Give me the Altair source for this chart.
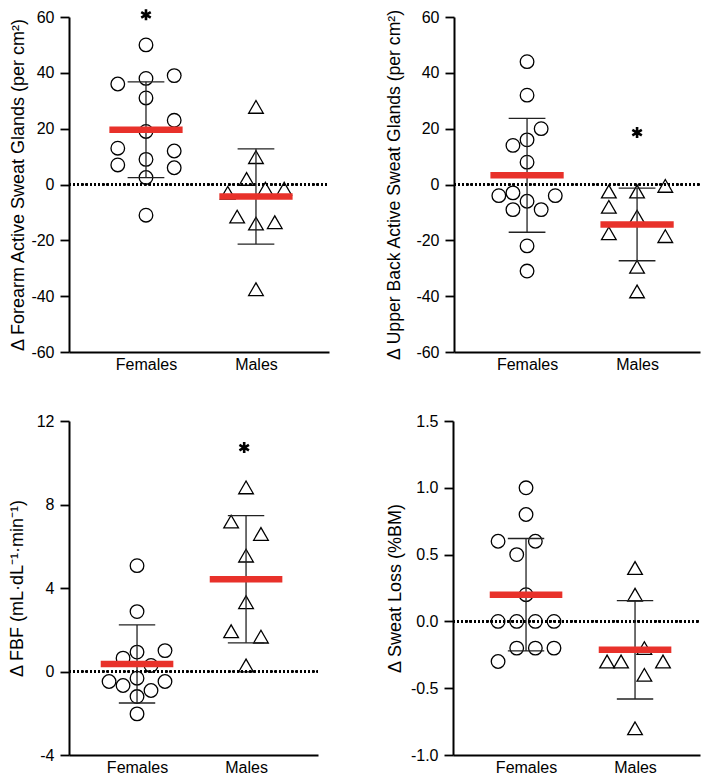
import altair as alt
import pandas as pd

GROUPS = ["Females", "Males"]

# ---- Forearm active sweat glands (per cm2) ----
fa_f_vals = [50, 38, 31, 19, 9, 2.5, -11, 36, 13, 7, 39, 23, 12, 6]
fa_f_cols = [0, 0, 0, 0, 0, 0, 0, -3, -3, -3, 3, 3, 3, 3]
fa_m_vals = [27.8, 9.8, 2, -3, -1.5, -1.5, -11.5, -14, -13.5, -37.5]
fa_m_cols = [0, 0, -1, -3, 1, 3, -2, 0, 2, 0]

# ---- Upper back active sweat glands (per cm2) ----
ub_f_vals = [44, 32, 20, 16, 14, 8, -3, -4, -4, -6, -9, -9, -22, -31]
ub_f_cols = [0, 0, 1.5, 0, -1.5, 0, -1.5, -3, 3, 0, -1.5, 1.5, 0, 0]
ub_m_vals = [-2.5, -2.5, -0.5, -8, -11.5, -17.5, -18.5, -29.5, -38.3]
ub_m_cols = [-3, 0, 3, -3, 0, -3, 3, 0, 0]

# ---- FBF (mL/dL/min) ----
fbf_f_vals = [5.07, 2.87, 1.0, 0.93, 0.64, 0.29, -0.48, -0.48, -0.32, -0.67, -0.91, -1.2, -2.03]
fbf_f_cols = [0, 0, 3, 0, -1.5, 1.5, -3, 3, 0, -1.5, 1.5, 0, 0]
fbf_m_vals = [8.82, 7.18, 6.59, 5.55, 3.32, 1.93, 1.67, 0.29]
fbf_m_cols = [0, -1.6, 1.6, 0, 0, -1.6, 1.6, 0]

# ---- Sweat loss (%BM) ----
sl_f_vals = [1.0, 0.8, 0.6, 0.6, 0.5, 0.2, 0, 0, 0, 0, -0.2, -0.2, -0.2, -0.3]
sl_f_cols = [0, 0, -3, 1, -1, 0, -3, -1, 1, 3, -1, 1, 3, -3]
sl_m_vals = [0.4, 0.2, -0.2, -0.3, -0.3, -0.3, -0.4, -0.8]
sl_m_cols = [0, 0, 1, -3, -1.5, 3, 1, 0]

# significance markers: (group index, y value, column)
fa_sig = [(0, 60.8, 0)]
ub_sig = [(1, 18.6, 0)]
fbf_sig = [(1, 10.73, -0.2)]
sl_sig = []

COL = 0.0855
BAR_HALF = 0.333
CAP_HALF = 0.167
RED = "#e8312a"
FONT = "Liberation Sans"
ASTERISK = "M0,-1L0,1M-0.866,-0.5L0.866,0.5M-0.866,0.5L0.866,-0.5"


def points_df(fv, fc, mv, mc):
    rows = [{"group": "Females", "gi": 0, "col": c, "v": v} for v, c in zip(fv, fc)]
    rows += [{"group": "Males", "gi": 1, "col": c, "v": v} for v, c in zip(mv, mc)]
    return pd.DataFrame(rows)


def panel(df, sig, title, ydom, yticks, decimals, w, h, xdom, tfs, tpad):
    if decimals:
        lab = "(datum.value < 0 ? '-' : '') + format(abs(datum.value), '.1f')"
    else:
        lab = "(datum.value < 0 ? '-' : '') + format(abs(datum.value), 'd')"
    yscale = alt.Scale(domain=ydom, nice=False, zero=False)
    yaxis = alt.Axis(
        values=yticks, labelExpr=lab, title=title, grid=False,
        domainColor="black", domainWidth=2, tickColor="black", tickWidth=1.8,
        tickSize=9, labelPadding=6, labelFont=FONT, labelFontSize=16,
        labelColor="black", titleFont=FONT, titleFontSize=tfs,
        titleFontWeight="normal", titleColor="black", titlePadding=tpad,
    )
    xscale = alt.Scale(domain=xdom, nice=False, zero=False)
    xaxis = alt.Axis(
        values=[0, 1], labelExpr="datum.value == 0 ? 'Females' : 'Males'",
        ticks=False, tickSize=0, grid=False, title=None, labelPadding=4,
        domainColor="black", domainWidth=2, labelFont=FONT, labelFontSize=16,
        labelColor="black", labelFlush=False,
    )

    base = alt.Chart(df)

    zero = base.mark_rule(color="black", strokeWidth=1.6, strokeDash=[1.6, 2.6]).encode(
        x=alt.value(0), x2=alt.value(w),
        y=alt.datum(0, scale=yscale, axis=yaxis),
    )

    pts = base.transform_calculate(x=f"datum.gi + datum.col * {COL}").mark_point(
        filled=False, color="black", strokeWidth=1.3, opacity=1
    ).encode(
        x=alt.X("x:Q", scale=xscale, axis=xaxis),
        y=alt.Y("v:Q", scale=yscale, axis=yaxis),
        shape=alt.Shape("group:N", scale=alt.Scale(domain=GROUPS, range=["circle", "triangle-up"]), legend=None),
        size=alt.Size("group:N", scale=alt.Scale(domain=GROUPS, range=[185, 215]), legend=None),
    )

    stats = base.transform_aggregate(
        m="mean(v)", sd="stdev(v)", groupby=["gi"]
    ).transform_calculate(
        lo="datum.m - datum.sd", hi="datum.m + datum.sd",
        bx1=f"datum.gi - {BAR_HALF}", bx2=f"datum.gi + {BAR_HALF}",
        cx1=f"datum.gi - {CAP_HALF}", cx2=f"datum.gi + {CAP_HALF}",
    )

    err_v = stats.mark_rule(color="#222222", strokeWidth=1.3).encode(
        x=alt.X("gi:Q", scale=xscale, axis=xaxis),
        y=alt.Y("lo:Q", scale=yscale, axis=yaxis), y2="hi:Q",
    )
    caps = stats.transform_fold(["lo", "hi"], as_=["k", "cv"]).mark_rule(
        color="#222222", strokeWidth=1.3
    ).encode(
        x=alt.X("cx1:Q", scale=xscale, axis=xaxis), x2="cx2:Q",
        y=alt.Y("cv:Q", scale=yscale, axis=yaxis),
    )
    mean_bar = stats.mark_rule(color=RED, strokeWidth=6.5).encode(
        x=alt.X("bx1:Q", scale=xscale, axis=xaxis), x2="bx2:Q",
        y=alt.Y("m:Q", scale=yscale, axis=yaxis),
    )

    layers = [zero, pts, err_v, caps, mean_bar]
    if sig:
        sdf = pd.DataFrame({"gi": [s[0] for s in sig], "sy": [s[1] for s in sig], "col": [s[2] for s in sig]})
        star = alt.Chart(sdf).transform_calculate(sx=f"datum.gi + datum.col * {COL}").mark_point(
            shape=ASTERISK, size=121, filled=False, color="black", strokeWidth=2.6,
            strokeCap="butt", strokeJoin="round", opacity=1,
        ).encode(
            x=alt.X("sx:Q", scale=xscale, axis=xaxis),
            y=alt.Y("sy:Q", scale=yscale, axis=yaxis),
        )
        layers.append(star)
    return alt.layer(*layers).properties(width=w, height=h)


p1 = panel(points_df(fa_f_vals, fa_f_cols, fa_m_vals, fa_m_cols), fa_sig,
           "\u0394  Forearm Active Sweat Glands (per cm\u00b2)",
           [-60, 60], [-60, -40, -20, 0, 20, 40, 60], False, 260, 335, [-0.7, 1.664], 18, 3.5)
p2 = panel(points_df(ub_f_vals, ub_f_cols, ub_m_vals, ub_m_cols), ub_sig,
           "\u0394  Upper Back Active Sweat Glands (per cm\u00b2)",
           [-60, 60], [-60, -40, -20, 0, 20, 40, 60], False, 246, 335, [-0.664, 1.572], 17.6, 12)
p3 = panel(points_df(fbf_f_vals, fbf_f_cols, fbf_m_vals, fbf_m_cols), fbf_sig,
           "\u0394 FBF (mL\u00b7dL\u207b\u00b9\u00b7min\u207b\u00b9)",
           [-4, 12], [-4, 0, 4, 8, 12], False, 249, 334, [-0.624, 1.66], 18, 10)
p4 = panel(points_df(sl_f_vals, sl_f_cols, sl_m_vals, sl_m_cols), sl_sig,
           "\u0394 Sweat Loss (%BM)",
           [-1, 1.5], [-1.0, -0.5, 0.0, 0.5, 1.0, 1.5], True, 247, 334, [-0.67, 1.596], 18, 6.4)

row1 = alt.hconcat(p1, p2, spacing=125, bounds="flush")
row2 = alt.hconcat(p3, p4, spacing=135, bounds="flush")

chart = alt.vconcat(row1, row2, spacing=41).configure_view(stroke=None).properties(
    padding={"left": 0, "top": -2, "right": 0, "bottom": 0}, background="white"
)

chart.save("out.html", embed_options={"renderer": "svg", "actions": False})
